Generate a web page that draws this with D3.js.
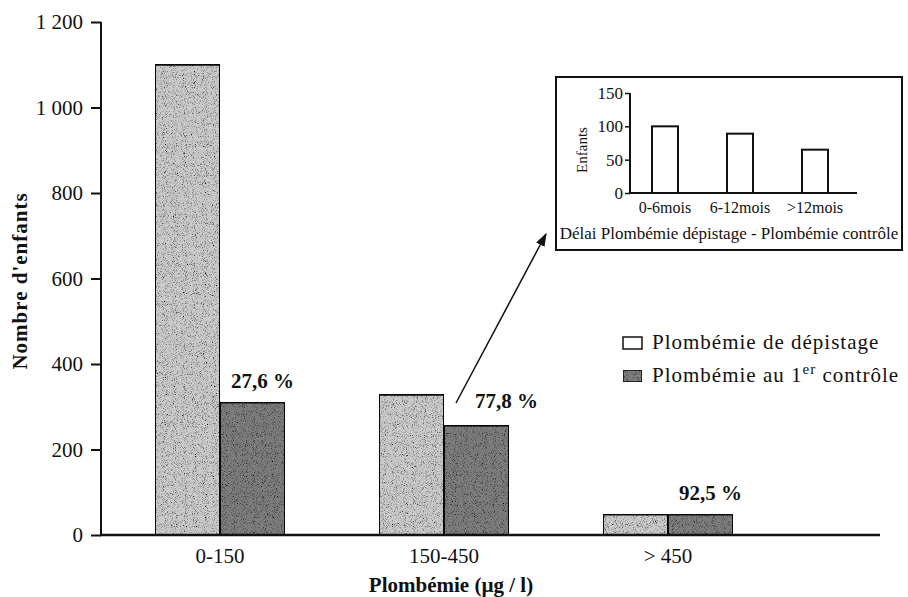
<!DOCTYPE html>
<html>
<head>
<meta charset="utf-8">
<script src="https://cdn.jsdelivr.net/npm/d3@7"></script>
<style>
  body { margin: 0; background: #fff; }
  svg { display: block; }
  text { font-family: "Liberation Serif", "DejaVu Serif", serif; fill: #111; }
</style>
</head>
<body>
<svg id="vis" width="908" height="597"></svg>
<script>
const categories = ["0-150", "150-450", "> 450"];
const depistage = [1100, 328, 48];
const controle = [310, 256, 48];
const pctLabels = ["27,6 %", "77,8 %", "92,5 %"];
const yTicks = [0, 200, 400, 600, 800, 1000, 1200];

const insetCats = ["0-6mois", "6-12mois", ">12mois"];
const insetValues = [100, 89, 65];
const insetTicks = [0, 50, 100, 150];

const lightFill = "#cbcbcb";
const darkFill = "#7e7e7e";

const svg = d3.select("#vis");

// noisy stipple like the printed bars
const defs = svg.append("defs");
const filt = defs.append("filter").attr("id", "grain")
  .attr("x", 0).attr("y", 0).attr("width", 1).attr("height", 1);
filt.append("feTurbulence").attr("type", "fractalNoise")
  .attr("baseFrequency", 1.1).attr("numOctaves", 2).attr("seed", 3).attr("result", "noise");
filt.append("feColorMatrix").attr("in", "noise").attr("type", "matrix")
  .attr("values", "0 0 0 0 0  0 0 0 0 0  0 0 0 0 0  -3 0 0 0 1.5").attr("result", "dots");
filt.append("feComposite").attr("in", "dots").attr("in2", "SourceGraphic").attr("operator", "in").attr("result", "d2");
filt.append("feMerge").selectAll("feMergeNode").data(["SourceGraphic", "d2"]).enter()
  .append("feMergeNode").attr("in", d => d);

const y = d3.scaleLinear().domain([0, 1200]).range([535, 22]);
const x = d3.scalePoint().domain(categories).range([220, 668]);
const barW = 65;

const fr = d3.formatLocale({ decimal: ",", thousands: " ", grouping: [3], currency: ["", ""] });
const fmt = fr.format(",d");

// y axis
const yAxis = svg.append("g").attr("transform", "translate(101,0)")
  .call(d3.axisLeft(y).tickValues(yTicks).tickSize(10).tickPadding(8).tickFormat(fmt));
yAxis.select(".domain").attr("stroke", "#111").attr("stroke-width", 2).attr("d", "M0," + y(1200) + "V" + y(0));
yAxis.selectAll(".tick line").attr("stroke", "#111").attr("stroke-width", 2);
yAxis.selectAll(".tick text").style("font-family", "Liberation Serif").style("font-size", "21px").attr("fill", "#111");

// bars
const groups = svg.append("g").selectAll("g")
  .data(categories).enter().append("g");

groups.append("rect")
  .attr("x", d => x(d) - barW)
  .attr("y", (d, i) => y(depistage[i]))
  .attr("width", barW)
  .attr("height", (d, i) => y(0) - y(depistage[i]))
  .attr("fill", lightFill).attr("filter", "url(#grain)")
  .attr("stroke", "#111").attr("stroke-width", 2);

groups.append("rect")
  .attr("x", d => x(d))
  .attr("y", (d, i) => y(controle[i]))
  .attr("width", barW)
  .attr("height", (d, i) => y(0) - y(controle[i]))
  .attr("fill", darkFill).attr("filter", "url(#grain)")
  .attr("stroke", "#111").attr("stroke-width", 2);

groups.append("text")
  .attr("x", (d, i) => x(d) + barW / 2 + (i == 1 ? 30 : 10))
  .attr("y", (d, i) => y(controle[i]) - (i == 1 ? 18 : 14))
  .attr("text-anchor", "middle")
  .style("font-size", "21px").style("font-weight", "bold")
  .text((d, i) => pctLabels[i]);

// x axis
svg.append("line").attr("x1", 100).attr("x2", 880).attr("y1", y(0)).attr("y2", y(0))
  .attr("stroke", "#111").attr("stroke-width", 2.5);
svg.append("g").selectAll("text").data(categories).enter().append("text")
  .attr("x", d => x(d)).attr("y", 563)
  .attr("text-anchor", "middle").style("font-size", "21px")
  .text(d => d);

// axis titles
svg.append("text").attr("x", 451).attr("y", 592).attr("text-anchor", "middle")
  .style("font-size", "21px").style("font-weight", "bold")
  .text("Plombémie (µg / l)");
svg.append("text").attr("transform", "translate(27,281) rotate(-90)").attr("text-anchor", "middle")
  .style("font-size", "21px").style("font-weight", "bold").style("letter-spacing", "1px")
  .text("Nombre d'enfants");

// legend
const legend = svg.append("g").attr("transform", "translate(623,0)");
const legendItems = [
  { fill: "#fff", label: "Plombémie de dépistage", y: 343 },
  { fill: darkFill, label: "Plombémie au 1", sup: "er", tail: " contrôle", y: 376 }
];
legendItems.forEach(function(it) {
  legend.append("rect").attr("x", 0).attr("y", it.y - 6).attr("width", 19).attr("height", 12)
    .attr("fill", it.fill).attr("stroke", "#111").attr("stroke-width", 1.5)
    .attr("filter", it.sup ? "url(#grain)" : null);
  const t = legend.append("text").attr("x", 29).attr("y", it.y + 6)
    .style("font-size", "21px").style("letter-spacing", "1px");
  t.append("tspan").text(it.label);
  if (it.sup) {
    t.append("tspan").attr("dy", -8).style("font-size", "15px").text(it.sup);
    t.append("tspan").attr("dy", 8).text(it.tail);
  }
});

// arrow
defs.append("marker").attr("id", "head").attr("viewBox", "0 0 10 10")
  .attr("refX", 9).attr("refY", 5).attr("markerWidth", 9).attr("markerHeight", 9)
  .attr("orient", "auto-start-reverse")
  .append("path").attr("d", "M0,1.5L10,5L0,8.5z").attr("fill", "#111");
svg.append("line").attr("x1", 456).attr("y1", 403).attr("x2", 546).attr("y2", 234)
  .attr("stroke", "#111").attr("stroke-width", 1.5).attr("marker-end", "url(#head)");

// inset
const inset = svg.append("g");
inset.append("rect").attr("x", 556).attr("y", 77).attr("width", 346).attr("height", 173)
  .attr("fill", "#fff").attr("stroke", "#111").attr("stroke-width", 2);

const iy = d3.scaleLinear().domain([0, 150]).range([193, 93]);
const ix = d3.scalePoint().domain(insetCats).range([665, 815]);
const iBarW = 26;

const iAxis = inset.append("g").attr("transform", "translate(630,0)")
  .call(d3.axisLeft(iy).tickValues(insetTicks).tickSize(5).tickPadding(2));
iAxis.select(".domain").attr("stroke", "#111").attr("stroke-width", 2).attr("d", "M0," + iy(150) + "V" + iy(0));
iAxis.selectAll(".tick line").attr("stroke", "#111").attr("stroke-width", 1.5);
iAxis.selectAll(".tick text").style("font-family", "Liberation Serif").style("font-size", "17px").attr("fill", "#111");

inset.append("g").selectAll("rect").data(insetCats).enter().append("rect")
  .attr("x", d => ix(d) - iBarW / 2)
  .attr("y", (d, i) => iy(insetValues[i]))
  .attr("width", iBarW)
  .attr("height", (d, i) => iy(0) - iy(insetValues[i]))
  .attr("fill", "#fff").attr("stroke", "#111").attr("stroke-width", 2);

inset.append("line").attr("x1", 629).attr("x2", 857).attr("y1", iy(0)).attr("y2", iy(0))
  .attr("stroke", "#111").attr("stroke-width", 2);

inset.append("g").selectAll("text").data(insetCats).enter().append("text")
  .attr("x", d => ix(d)).attr("y", 213).attr("text-anchor", "middle")
  .style("font-size", "16px").text(d => d);

inset.append("text").attr("x", 729).attr("y", 239).attr("text-anchor", "middle")
  .style("font-size", "17px").text("Délai Plombémie dépistage - Plombémie contrôle");
inset.append("text").attr("transform", "translate(587,150) rotate(-90)").attr("text-anchor", "middle")
  .style("font-size", "15px").text("Enfants");
</script>
</body>
</html>
